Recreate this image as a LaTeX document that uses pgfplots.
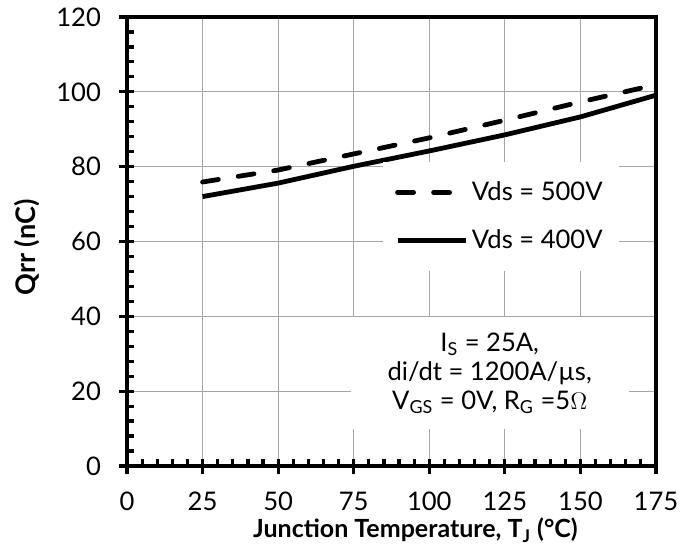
\documentclass[border=0pt]{standalone}
\usepackage{pgfplots}
\pgfplotsset{compat=1.18}
\usepackage{fontspec}
\setmainfont{Lato}

\begin{document}
\begin{tikzpicture}
\path[use as bounding box] (-63.5pt,-42pt) rectangle (284.5pt,233pt);
\begin{axis}[
  scale only axis, width=264.5pt, height=224.5pt,
  xmin=0, xmax=175, ymin=0, ymax=120,
  xtick={0,25,...,175}, ytick={0,20,...,120},
  minor x tick num=4, minor y tick num=4,
  xtick pos=left, ytick pos=left,
  tick align=inside,
  major tick length=7.5pt, minor tick length=3.5pt,
  every major x tick/.append style={yshift=-4pt},
  every major y tick/.append style={xshift=-4pt},
  tick style={black, line width=1.6pt},
  axis line style={line width=1.6pt},
  grid=major, major grid style={gray!70, line width=0.5pt},
  /pgf/number format/assume math mode=true,
  tick label style={font=\fontsize{12.8}{14}\selectfont},
  xticklabel style={yshift=-9.5pt},
  yticklabel style={xshift=-9.5pt},
  every axis x label/.style={at={([xshift=12pt,yshift=-36pt]axis description cs:0.5,0)}, anchor=base,
    font=\bfseries\fontsize{12.5}{14}\selectfont},
  every axis y label/.style={at={([xshift=-50pt,yshift=-3pt]axis description cs:0,0.5)}, anchor=center, rotate=90,
    font=\bfseries\fontsize{13.5}{15}\selectfont},
  xlabel={Junction Temperature, T\textsubscript{J} (°C)},
  ylabel={Qrr (nC)},
  legend style={draw=none, fill=white, at={(axis cs:123.7,66.7)}, anchor=center,
    font=\fontsize{12.8}{14}\selectfont, row sep=9pt, inner xsep=6pt, inner ysep=8pt},
  legend cell align=left,
  legend image code/.code={\draw[#1] (0pt,0pt) -- (34pt,0pt);},
]
\addplot[black, line width=2.4pt, dash pattern=on 8pt off 10pt, line cap=round]
  coordinates {(25,75.9) (50,79.1) (75,83.4) (100,87.7) (125,92.4) (150,97.3) (175,101.9)};
\addlegendentry{Vds = 500V}
\addplot[black, line width=2.4pt]
  coordinates {(25,72.0) (50,75.6) (75,80.1) (100,84.2) (125,88.5) (150,93.3) (175,99.1)};
\addlegendentry{Vds = 400V}
\node[fill=white, align=center, minimum width=139pt, minimum height=56pt,
  font=\fontsize{12.8}{14.5}\selectfont] at (axis cs:120,24.8)
  {I\textsubscript{S} = 25A,\\ di/dt = 1200A/µs,\\ V\textsubscript{GS} = 0V, R\textsubscript{G} =5$\Omega$};
\end{axis}
\end{tikzpicture}
\end{document}
